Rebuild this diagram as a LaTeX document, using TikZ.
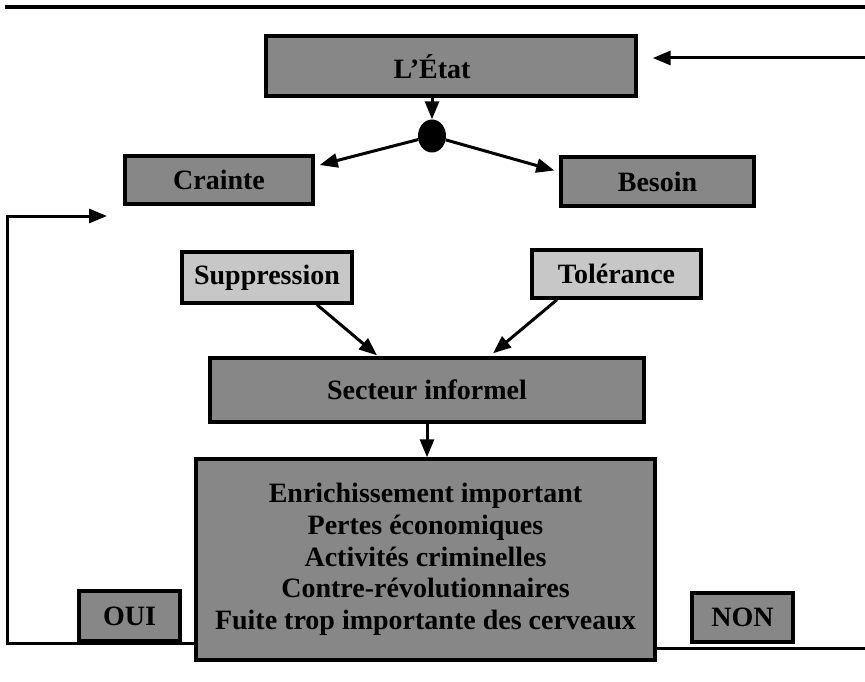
\documentclass[tikz,border=0pt]{standalone}
\usepackage{fontspec}
\setmainfont{Liberation Serif}
\usetikzlibrary{arrows.meta,calc,shapes.geometric}
\definecolor{darkfill}{gray}{0.53}
\definecolor{lightfill}{gray}{0.78}
\begin{document}
\begin{tikzpicture}[x=1pt,y=-1pt,
  box/.style={draw=black, line width=3.4pt, inner sep=0pt, align=center,
    font=\fontsize{28}{31.7}\selectfont\bfseries},
  darkbox/.style={box, fill=darkfill},
  lightbox/.style={box, fill=lightfill},
  lbl/.style={inner sep=0pt, font=\fontsize{28}{31.7}\selectfont\bfseries},
  conn/.style={line width=3pt},
  arr/.style={conn, -{Triangle[length=18pt,width=14pt]}}]
\useasboundingbox (0,0) rectangle (865,682);
% top rule
\coordinate (tl) at (5,7);
\coordinate (tr) at (865,7);
\draw[line width=3.5pt] (tl) -- (tr);
% boxes
\node[darkbox, minimum width=370pt, minimum height=60pt] (etat) at (451,66) {};
\node[lbl] (etatT) at (432,67) {L'État};
\node[ellipse, fill=black, inner sep=0pt, minimum width=28pt, minimum height=33pt] (dot) at (432,136) {};
\node[darkbox, minimum width=188pt, minimum height=48pt] (crainte) at (219,180) {Crainte};
\node[darkbox, minimum width=193pt, minimum height=49pt] (besoin) at (657.5,181.5) {Besoin};
\node[lightbox, minimum width=170pt, minimum height=51pt] (supp) at (267,277.5) {Suppression};
\node[lightbox, minimum width=169pt, minimum height=48pt] (tol) at (616.5,274) {Tolérance};
\node[darkbox, minimum width=434pt, minimum height=64pt] (sect) at (427,390) {Secteur informel};
\node[darkbox, minimum width=459pt, minimum height=201pt] (big) at (425.5,559.5)
  {Enrichissement important\\Pertes économiques\\Activités criminelles\\Contre-révolutionnaires\\Fuite trop importante des cerveaux};
\node[darkbox, minimum width=101pt, minimum height=50pt] (oui) at (129.5,616) {OUI};
\node[darkbox, minimum width=101pt, minimum height=49pt] (non) at (742.5,617.5) {NON};
% feedback coordinates
\coordinate (rin) at (865,58);
\coordinate (lc) at (7,643);
\coordinate (lt) at (7,216);
\coordinate (ltip) at (107,216);
\coordinate (rc) at (865,648);
% connectors
\draw[arr, shorten >=15pt] (rin) -- (etat.east |- rin);
\draw[arr] (etatT |- etat.south) -- (dot.north);
\draw[arr] (dot) -- ($(crainte.east)+(5,-15)$);
\draw[arr] (dot) -- ($(besoin.west)+(-5,-11)$);
\draw[arr] ($(supp.south)+(50,0)$) -- ($(sect.north)+(-50,-1)$);
\draw[arr] ($(tol.south)+(-59.5,0)$) -- ($(sect.north)+(66,-3)$);
\draw[arr] (sect.south) -- (sect.south |- big.north);
\draw[arr] (big.west |- lc) -- (lc) -- (lt) -- (ltip);
\draw[conn] (big.east |- rc) -- (rc);
\end{tikzpicture}
\end{document}
